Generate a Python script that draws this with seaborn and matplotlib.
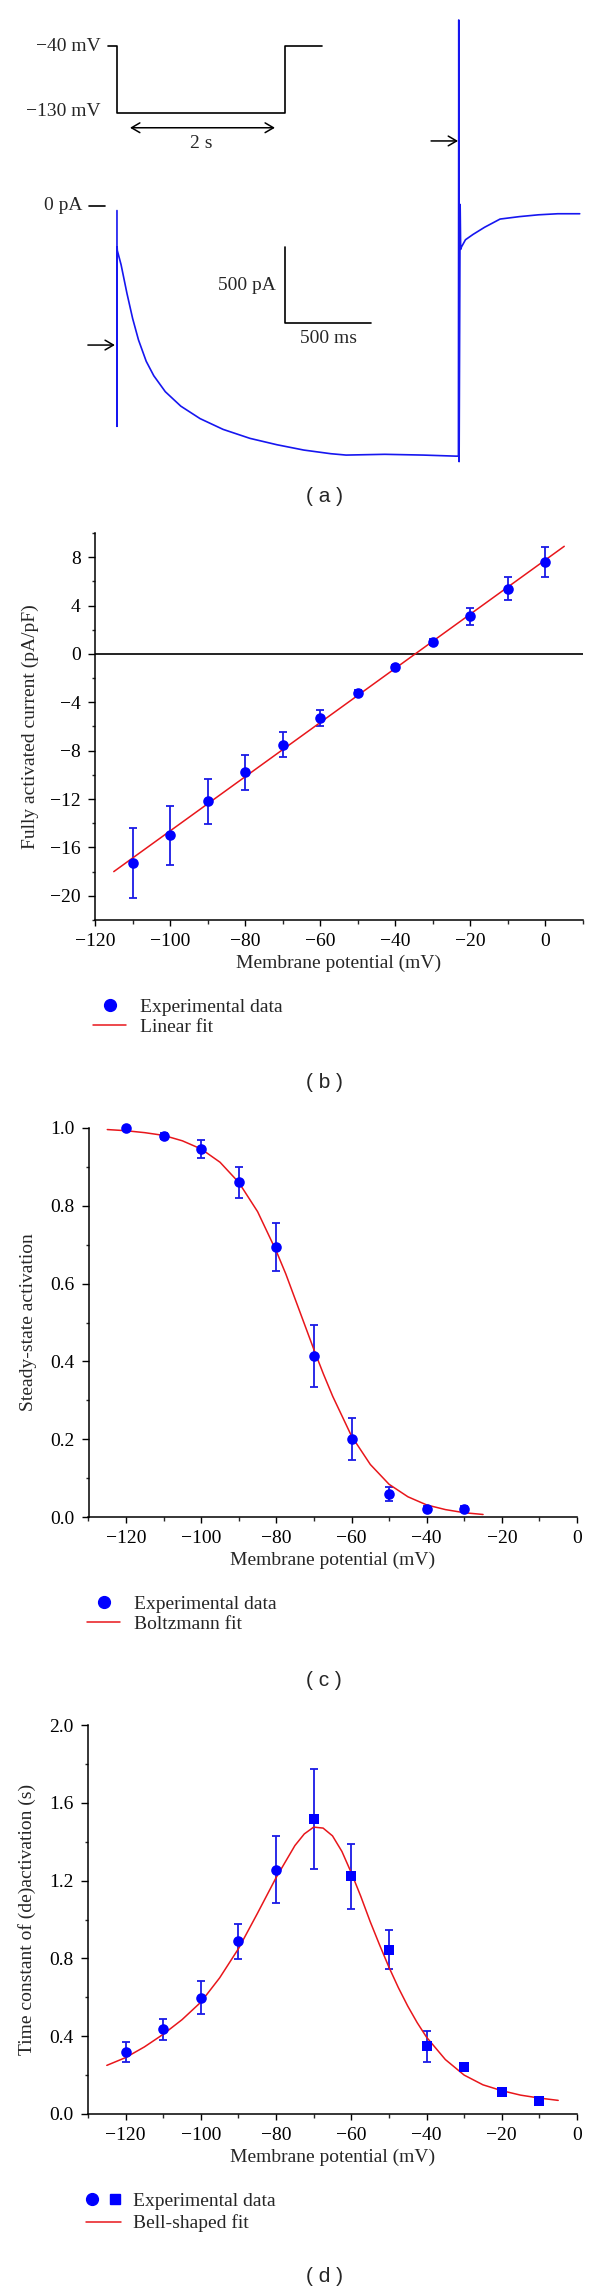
import numpy as np
import pandas as pd
import matplotlib
matplotlib.use("Agg")
import matplotlib.pyplot as plt
import seaborn as sns
from matplotlib.legend_handler import HandlerTuple
from matplotlib.lines import Line2D
from matplotlib.ticker import MultipleLocator, FormatStrFormatter

# ---------------- data ----------------
# (a) current trace (ms, pA) read from the recording
trace_t = [0, 0, 1, 2, 24, 58, 91, 125, 170, 214, 281, 371, 483, 617, 773, 930,
           1086, 1243, 1332, 1556, 1780, 1970, 1985, 1987, 1989, 1995, 1998, 2003,
           2026, 2070, 2137, 2227, 2339, 2450, 2562, 2690]
trace_i = [-30, -1450, -270, -293, -387, -575, -740, -881, -1022, -1117, -1222, -1317,
           -1399, -1470, -1529, -1571, -1606, -1630, -1639, -1634, -1639, -1646, -1646,
           1224, -1682, 10, -285, -269, -222, -187, -140, -86, -70, -58, -51, -51]
# voltage protocol (ms, mV)
protocol_t = [-107, 0, 0, 2000, 2000, 2440]
protocol_v = [-40, -40, -130, -130, -40, -40]
scale_ms = 500
scale_pa = 500

# (b) fully activated current
iv_v = [-110, -100, -90, -80, -70, -60, -50, -40, -30, -20, -10, 0]
iv_i = [-17.3, -15.0, -12.2, -9.8, -7.5, -5.3, -3.2, -1.1, 1.0, 3.1, 5.4, 7.6]
iv_err = [2.9, 2.45, 1.9, 1.45, 1.05, 0.67, 0.2, 0.2, 0.25, 0.69, 0.98, 1.25]
iv_fit_v = [-115, 5]
iv_fit_i = [-18.0, 8.9]

# (c) steady-state activation
act_v = [-120, -110, -100, -90, -80, -70, -60, -50, -40, -30]
act = [1.0, 0.98, 0.946, 0.86, 0.694, 0.414, 0.2, 0.058, 0.021, 0.021]
act_err = [0.0, 0.008, 0.022, 0.04, 0.062, 0.08, 0.054, 0.018, 0.006, 0.006]
act_fit_v = [-125, -120, -115, -110, -105, -100, -95, -90, -85, -80, -77.5, -75, -72.5,
             -70, -67.5, -65, -60, -55, -50, -45, -40, -35, -30, -25]
act_fit = [0.996, 0.993, 0.988, 0.981, 0.967, 0.946, 0.912, 0.860, 0.785, 0.683, 0.625,
           0.56, 0.495, 0.43, 0.368, 0.31, 0.208, 0.135, 0.084, 0.052, 0.031, 0.019,
           0.011, 0.0065]

# (d) time constants
tau_v_act = [-120, -110, -100, -90, -80]
tau_act = [0.318, 0.436, 0.598, 0.889, 1.257]
tau_act_err = [0.05, 0.055, 0.084, 0.09, 0.17]
tau_v_deact = [-70, -60, -50, -40, -30, -20, -10]
tau_deact = [1.516, 1.223, 0.845, 0.348, 0.241, 0.114, 0.068]
tau_deact_err = [0.257, 0.167, 0.1, 0.08, 0.012, 0.008, 0.008]
tau_fit_v = [-125, -120, -115, -110, -105, -100, -95, -90, -85, -80, -75, -72.5, -70,
             -67.5, -65, -62.5, -60, -57.5, -55, -52.5, -50, -47.5, -45, -42.5, -40,
             -35, -30, -25, -20, -15, -10, -5]
tau_fit = [0.25, 0.29, 0.345, 0.41, 0.485, 0.575, 0.70, 0.85, 1.03, 1.215, 1.38, 1.44,
           1.475, 1.47, 1.43, 1.35, 1.24, 1.12, 0.99, 0.87, 0.755, 0.65, 0.555, 0.47,
           0.395, 0.28, 0.20, 0.15, 0.12, 0.097, 0.082, 0.07]

# ---------------- style ----------------
sns.set_style("ticks")
plt.rcParams['font.family'] = ['Liberation Serif', 'DejaVu Serif']
plt.rcParams['axes.unicode_minus'] = True
FS = 14
BLUE = '#0000ff'
EBLUE = '#1a1ae6'
RED = '#e8161b'
W, H = 600, 2292
fig = plt.figure(figsize=(W / 100, H / 100), dpi=100)


def rect(l, t, r, b):
    return [l / W, 1 - b / H, (r - l) / W, (b - t) / H]


def style_axes(ax):
    sns.despine(ax=ax)
    for s in ['left', 'bottom']:
        ax.spines[s].set_linewidth(1.1)
        ax.spines[s].set_color('black')
    ax.tick_params(axis='y', which='major', direction='out', length=5.2, width=1.0,
                   pad=5, labelsize=FS, colors='black')
    ax.tick_params(axis='y', which='minor', direction='out', length=2.4, width=1.0)
    ax.tick_params(axis='x', which='major', direction='out', length=4.3, width=1.0,
                   pad=5, labelsize=FS, colors='black')
    ax.tick_params(axis='x', which='minor', direction='out', length=2.7, width=1.0)
    ax.set_facecolor('none')


def panel_label(txt, y):
    fig.text(324 / W, 1 - y / H, txt, ha='center', va='center', fontsize=15,
             family=['Liberation Sans', 'DejaVu Sans'])


EB = dict(fmt='none', ecolor=EBLUE, elinewidth=1.3, capsize=3, capthick=1.3, zorder=2)

# ---------------- (a) ----------------
ax_a = fig.add_axes(rect(0, 0, 600, 480))
ax_a.set_xlim(-680, 2808)
ax_a.set_ylim(-1803, 1355.5)
ax_a.axis('off')
df_tr = pd.DataFrame({'t': trace_t, 'i': trace_i})
sns.lineplot(data=df_tr, x='t', y='i', sort=False, estimator=None, color='#1616f0',
             lw=1.2, ax=ax_a)
ax_a.plot([-163, -70], [0, 0], color='black', lw=1.2)
ax_a.text(-198, 0, '0 pA', ha='right', va='center', fontsize=FS)
sb_t0, sb_i0 = 977, -770
ax_a.plot([sb_t0, sb_t0, sb_t0 + scale_ms], [sb_i0 + scale_pa, sb_i0, sb_i0],
          color='black', lw=1.2)
ax_a.text(sb_t0 - 53, sb_i0 + scale_pa / 2 - 6, f'{scale_pa} pA', ha='right',
          va='center', fontsize=FS)
ax_a.text(sb_t0 + scale_ms / 2, sb_i0 - 99, f'{scale_ms} ms', ha='center',
          va='center', fontsize=FS)
arr = dict(arrowstyle='->,head_length=0.6,head_width=0.35', lw=1.1, color='black',
           shrinkA=0, shrinkB=0)
ax_a.annotate('', xy=(-12, -915), xytext=(-169, -915), arrowprops=arr)
ax_a.annotate('', xy=(1983, 428), xytext=(1826, 428), arrowprops=arr)

ax_v = fig.add_axes(rect(0, 0, 600, 480))
ax_v.set_xlim(-1392, 5748)
ax_v.set_ylim(-626.7, 22.9)
ax_v.axis('off')
ax_v.patch.set_alpha(0)
df_pr = pd.DataFrame({'t': protocol_t, 'v': protocol_v})
sns.lineplot(data=df_pr, x='t', y='v', sort=False, estimator=None, color='black',
             lw=1.2, ax=ax_v)
ax_v.text(-190, -40, '\u221240 mV', ha='right', va='center', fontsize=FS)
ax_v.text(-190, -128, '\u2212130 mV', ha='right', va='center', fontsize=FS)
ax_v.annotate('', xy=(1880, -150), xytext=(155, -150),
              arrowprops=dict(arrowstyle='<->,head_length=0.6,head_width=0.35',
                              lw=1.1, color='black', shrinkA=0, shrinkB=0))
ax_v.text(1000, -171, '2 s', ha='center', va='center', fontsize=FS)

panel_label('( a )', 497)

# ---------------- (b) ----------------
ax_b = fig.add_axes(rect(95, 533, 583, 920))
style_axes(ax_b)
ax_b.axhline(0, color='#222222', lw=1.4, zorder=1)
df_iv = pd.DataFrame({'v': iv_v, 'i': iv_i, 'e': iv_err})
ax_b.errorbar(df_iv['v'], df_iv['i'], yerr=df_iv['e'], **EB)
sns.lineplot(x=iv_fit_v, y=iv_fit_i, color=RED, lw=1.1, ax=ax_b, zorder=3)
sns.scatterplot(data=df_iv, x='v', y='i', color=BLUE, s=58, linewidth=0, ax=ax_b,
                zorder=4)
ax_b.set_xlim(-120, 10)
ax_b.set_ylim(-22, 10)
ax_b.set_xticks(range(-120, 1, 20))
ax_b.xaxis.set_minor_locator(MultipleLocator(10))
ax_b.set_yticks(range(-20, 9, 4))
ax_b.yaxis.set_minor_locator(MultipleLocator(2))
ax_b.set_xlabel('Membrane potential (mV)', fontsize=FS)
ax_b.set_ylabel('Fully activated current (pA/pF)', fontsize=FS)
ax_b.xaxis.set_label_coords(0.5, -0.09)
ax_b.yaxis.set_label_coords((39 - 95) / 488, 0.5)
h1 = Line2D([], [], marker='o', ls='none', color=BLUE, markersize=8.5)
h2 = Line2D([], [], color=RED, lw=1.1)
ax_b.legend([h1, h2], ['Experimental data', 'Linear fit'], loc='upper left',
            bbox_to_anchor=(93 / W, 1 - 998 / H), bbox_transform=fig.transFigure,
            frameon=False, fontsize=FS, borderpad=0, borderaxespad=0,
            handlelength=1.7, handletextpad=0.7, labelspacing=0.15)
panel_label('( b )', 1082)

# ---------------- (c) ----------------
ax_c = fig.add_axes(rect(88.5, 1128, 577, 1517))
style_axes(ax_c)
df_act = pd.DataFrame({'v': act_v, 'a': act, 'e': act_err})
ax_c.errorbar(df_act['v'], df_act['a'], yerr=df_act['e'], **EB)
sns.lineplot(x=act_fit_v, y=act_fit, color=RED, lw=1.1, ax=ax_c, zorder=3)
sns.scatterplot(data=df_act, x='v', y='a', color=BLUE, s=58, linewidth=0, ax=ax_c,
                zorder=4, clip_on=False)
ax_c.set_xlim(-130, 0)
ax_c.set_ylim(0, 1.0)
ax_c.set_xticks(range(-120, 1, 20))
ax_c.xaxis.set_minor_locator(MultipleLocator(10))
ax_c.set_yticks(np.arange(0, 1.01, 0.2))
ax_c.yaxis.set_minor_locator(MultipleLocator(0.1))
ax_c.yaxis.set_major_formatter(FormatStrFormatter('%.1f'))
ax_c.set_xlabel('Membrane potential (mV)', fontsize=FS)
ax_c.set_ylabel('Steady-state activation', fontsize=FS)
ax_c.xaxis.set_label_coords(0.5, -0.09)
ax_c.yaxis.set_label_coords((37 - 88.5) / 488.5, 0.5)
h2c = Line2D([], [], color=RED, lw=1.1)
ax_c.legend([h1, h2c], ['Experimental data', 'Boltzmann fit'], loc='upper left',
            bbox_to_anchor=(87 / W, 1 - 1595 / H), bbox_transform=fig.transFigure,
            frameon=False, fontsize=FS, borderpad=0, borderaxespad=0,
            handlelength=1.7, handletextpad=0.7, labelspacing=0.15)
panel_label('( c )', 1680)

# ---------------- (d) ----------------
ax_d = fig.add_axes(rect(88, 1725, 577, 2114))
style_axes(ax_d)
ax_d.errorbar(tau_v_act, tau_act, yerr=tau_act_err, **EB)
ax_d.errorbar(tau_v_deact, tau_deact, yerr=tau_deact_err, **EB)
sns.lineplot(x=tau_fit_v, y=tau_fit, color=RED, lw=1.1, ax=ax_d, zorder=3)
sns.scatterplot(x=tau_v_act, y=tau_act, color=BLUE, marker='o', s=58, linewidth=0,
                ax=ax_d, zorder=4)
sns.scatterplot(x=tau_v_deact, y=tau_deact, color=BLUE, marker='s', s=50,
                linewidth=0, ax=ax_d, zorder=4)
ax_d.set_xlim(-130, 0)
ax_d.set_ylim(0, 2.0)
ax_d.set_xticks(range(-120, 1, 20))
ax_d.xaxis.set_minor_locator(MultipleLocator(10))
ax_d.set_yticks(np.arange(0, 2.01, 0.4))
ax_d.yaxis.set_minor_locator(MultipleLocator(0.2))
ax_d.yaxis.set_major_formatter(FormatStrFormatter('%.1f'))
ax_d.set_xlabel('Membrane potential (mV)', fontsize=FS)
ax_d.set_ylabel('Time constant of (de)activation (s)', fontsize=FS)
ax_d.xaxis.set_label_coords(0.5, -0.09)
ax_d.yaxis.set_label_coords((36 - 88) / 489, 0.5)
hc = Line2D([], [], marker='o', ls='none', color=BLUE, markersize=8.5)
hs = Line2D([], [], marker='s', ls='none', color=BLUE, markersize=7.5)
h2d = Line2D([], [], color=RED, lw=1.1)
ax_d.legend([(hc, hs), h2d], ['Experimental data', 'Bell-shaped fit'],
            handler_map={tuple: HandlerTuple(ndivide=None, pad=0.6)},
            loc='upper left', bbox_to_anchor=(86 / W, 1 - 2192 / H),
            bbox_transform=fig.transFigure, frameon=False, fontsize=FS,
            borderpad=0, borderaxespad=0, handlelength=1.8, handletextpad=0.6,
            labelspacing=0.25)
panel_label('( d )', 2277)

fig.savefig('out.png', dpi=100)
